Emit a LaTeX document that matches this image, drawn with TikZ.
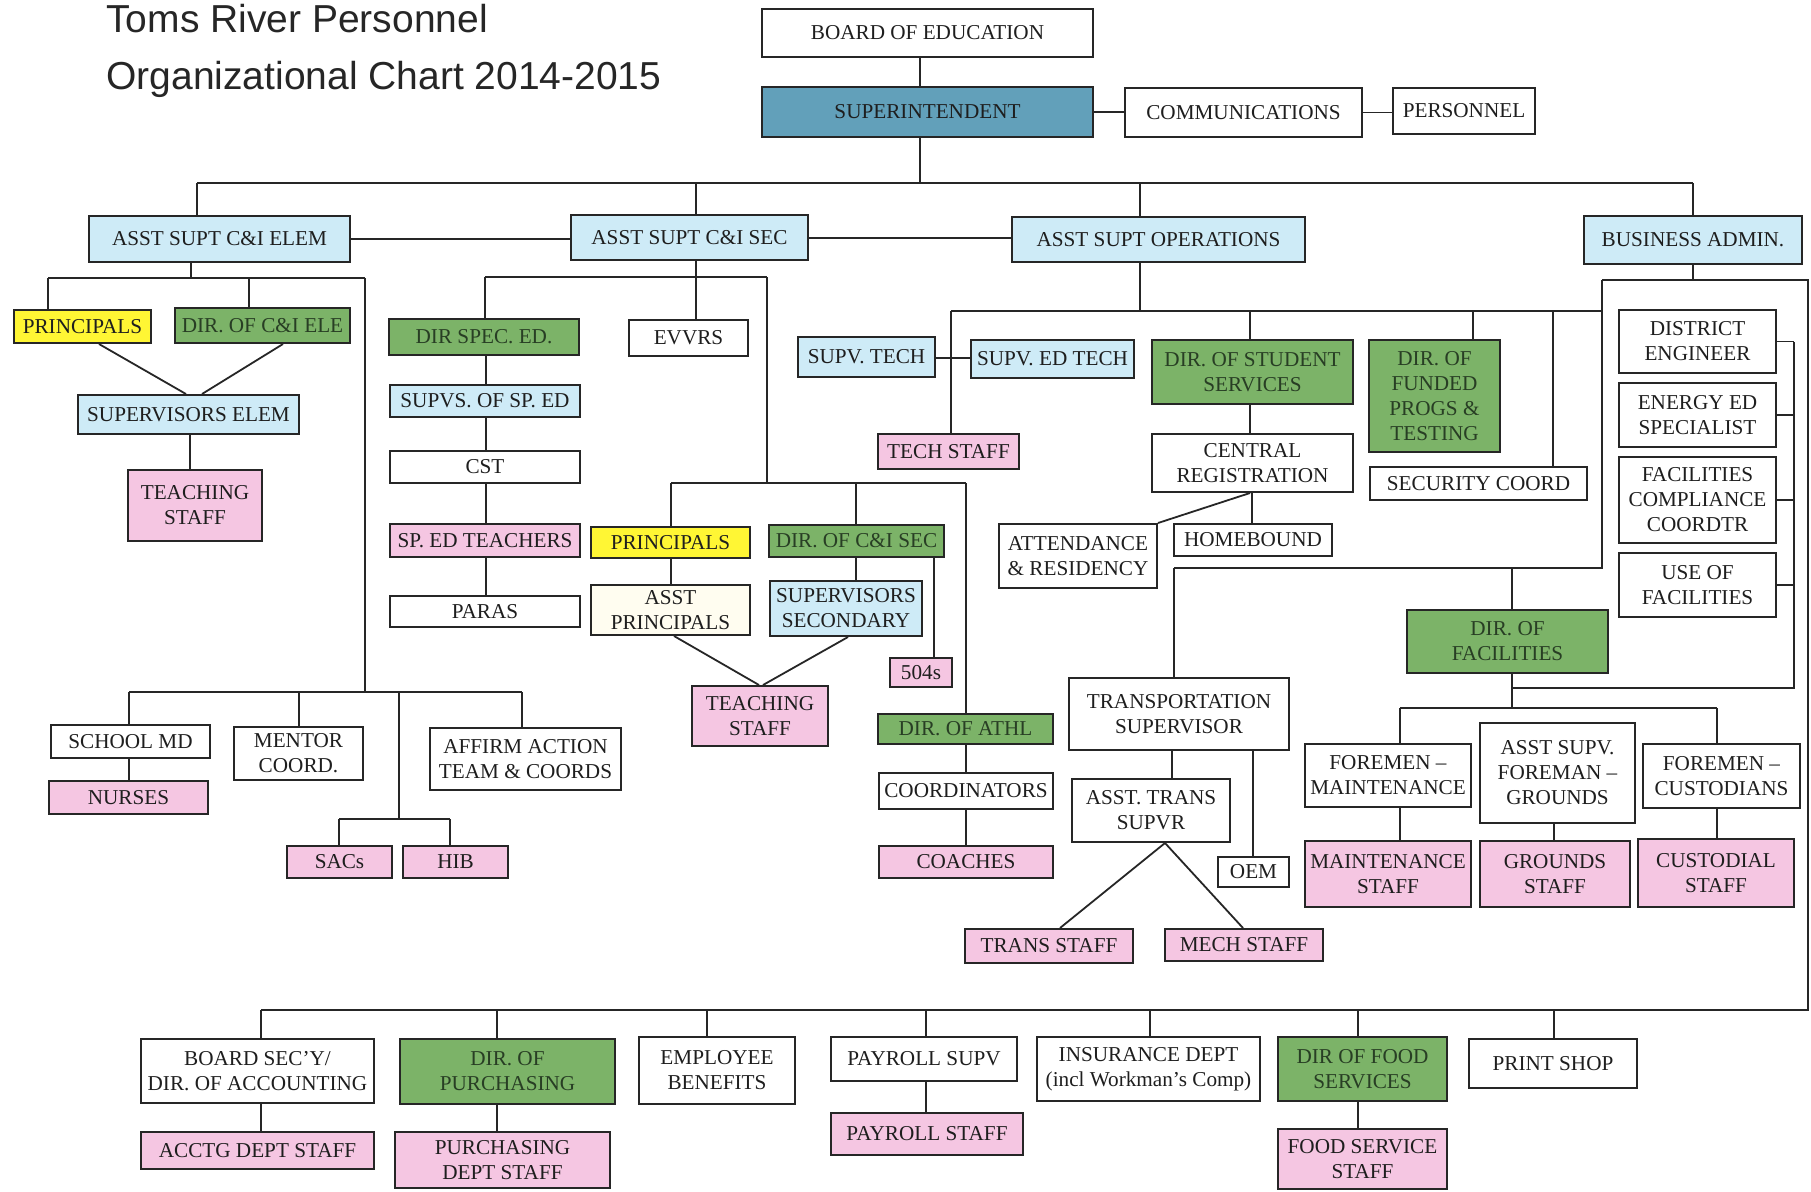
\documentclass[tikz,border=0pt]{standalone}
\usepackage{fontspec}
\setmainfont{Liberation Serif}
\newfontfamily\titlefont{Liberation Sans}
\definecolor{cSup}{RGB}{98,160,186}
\definecolor{cLB}{RGB}{206,235,247}
\definecolor{cGr}{RGB}{124,179,104}
\definecolor{cPk}{RGB}{245,198,226}
\definecolor{cYl}{RGB}{255,246,52}
\definecolor{cCr}{RGB}{255,253,240}
\definecolor{cTx}{RGB}{30,30,30}
\definecolor{cTxG}{RGB}{40,62,36}
\newcommand\bx[7]{\node[box,#6,minimum width={(#4-#2)*0.5pt},minimum height={(#5-#3)*0.5pt}] (#1) at ({(#2+#4)/2},{(#3+#5)/2}) {#7};}
\begin{document}
\begin{tikzpicture}[x=0.5pt,y=-0.5pt,
  box/.style={draw=black!85,line width=1pt,inner sep=1pt,align=center,font=\fontsize{10.6}{12.5}\selectfont,text=cTx},
  fWhite/.style={fill=white}, fSup/.style={fill=cSup}, fLB/.style={fill=cLB},
  fGreen/.style={fill=cGr,text=cTxG}, fPink/.style={fill=cPk}, fYellow/.style={fill=cYl}, fCream/.style={fill=cCr},
  ln/.style={draw=black!85,line width=0.9pt},
  ttl/.style={anchor=base west,inner sep=0pt,text=black!85,font=\titlefont\fontsize{19.5}{21}\selectfont}]
\fill[white] (0,0) rectangle (1811,1191);
\useasboundingbox (0,0) rectangle (1811,1191);
% title
\node[ttl] (t1) at (106,32) {Toms River Personnel};
\node[ttl] (t2) at (106,89) {Organizational Chart 2014-2015};
% top
\bx{board}{762}{9}{1093}{57}{fWhite}{BOARD OF EDUCATION}
\bx{super}{762}{87}{1093}{137}{fSup}{SUPERINTENDENT}
\bx{comm}{1125}{88}{1362}{137}{fWhite}{COMMUNICATIONS}
\bx{pers}{1393}{88}{1535}{134}{fWhite}{PERSONNEL}
% level 1
\bx{elem}{89}{216}{350}{262}{fLB}{ASST SUPT C\&I ELEM}
\bx{sec}{571}{215}{808}{260}{fLB}{ASST SUPT C\&I SEC}
\bx{ops}{1012}{217}{1305}{262}{fLB}{ASST SUPT OPERATIONS}
\bx{bus}{1584}{216}{1802}{264}{fLB}{BUSINESS ADMIN.}
% elem subtree
\bx{prinE}{14}{310}{151}{343}{fYellow}{PRINCIPALS}
\bx{dirE}{175}{308}{350}{343}{fGreen}{DIR. OF C\&I ELE}
\bx{supE}{78}{395}{299}{434}{fLB}{SUPERVISORS ELEM}
\bx{teachE}{128}{470}{262}{541}{fPink}{TEACHING\\STAFF}
\bx{schoolmd}{51}{725}{210}{758}{fWhite}{SCHOOL MD}
\bx{nurses}{49}{781}{208}{814}{fPink}{NURSES}
\bx{mentor}{234}{727}{363}{780}{fWhite}{MENTOR\\COORD.}
\bx{affirm}{430}{728}{621}{790}{fWhite}{AFFIRM ACTION\\TEAM \& COORDS}
\bx{sacs}{287}{846}{392}{878}{fPink}{SACs}
\bx{hib}{403}{846}{508}{878}{fPink}{HIB}
% sec subtree
\bx{dirsp}{389}{319}{579}{355}{fGreen}{DIR SPEC. ED.}
\bx{supsp}{390}{385}{580}{417}{fLB}{SUPVS. OF SP. ED}
\bx{cst}{390}{451}{580}{483}{fWhite}{CST}
\bx{spedt}{390}{524}{580}{557}{fPink}{SP. ED TEACHERS}
\bx{paras}{390}{596}{580}{627}{fWhite}{PARAS}
\bx{evvrs}{629}{320}{748}{356}{fWhite}{EVVRS}
\bx{prinS}{591}{527}{750}{558}{fYellow}{PRINCIPALS}
\bx{dirS}{769}{525}{944}{557}{fGreen}{DIR. OF C\&I SEC}
\bx{asstprin}{591}{585}{750}{635}{fCream}{ASST\\PRINCIPALS}
\bx{supS}{770}{581}{922}{636}{fLB}{SUPERVISORS\\SECONDARY}
\bx{sfive}{890}{658}{952}{687}{fPink}{504s}
\bx{teachS}{692}{686}{828}{746}{fPink}{TEACHING\\STAFF}
\bx{athl}{878}{714}{1053}{744}{fGreen}{DIR. OF ATHL}
\bx{coord}{879}{773}{1053}{809}{fWhite}{COORDINATORS}
\bx{coaches}{879}{846}{1053}{878}{fPink}{COACHES}
% ops subtree
\bx{supvtech}{798}{337}{935}{377}{fLB}{SUPV. TECH}
\bx{supvedtech}{971}{340}{1134}{378}{fLB}{SUPV. ED TECH}
\bx{techstaff}{878}{434}{1019}{469}{fPink}{TECH STAFF}
\bx{dss}{1152}{340}{1353}{404}{fGreen}{DIR. OF STUDENT\\SERVICES}
\bx{centreg}{1152}{434}{1353}{492}{fWhite}{CENTRAL\\REGISTRATION}
\bx{attend}{999}{524}{1157}{588}{fWhite}{ATTENDANCE\\\& RESIDENCY}
\bx{homebound}{1174}{524}{1332}{556}{fWhite}{HOMEBOUND}
\bx{funded}{1369}{340}{1500}{452}{fGreen}{DIR. OF\\FUNDED\\PROGS \&\\TESTING}
\bx{security}{1370}{467}{1587}{500}{fWhite}{SECURITY COORD}
\bx{trans}{1069}{678}{1289}{750}{fWhite}{TRANSPORTATION\\SUPERVISOR}
\bx{asstrans}{1072}{779}{1230}{842}{fWhite}{ASST. TRANS\\SUPVR}
\bx{oem}{1218}{857}{1289}{887}{fWhite}{OEM}
\bx{transstaff}{965}{929}{1133}{963}{fPink}{TRANS STAFF}
\bx{mechstaff}{1165}{929}{1323}{961}{fPink}{MECH STAFF}
\bx{dirfac}{1407}{610}{1608}{673}{fGreen}{DIR. OF\\FACILITIES}
\bx{fmaint}{1305}{744}{1471}{807}{fWhite}{FOREMEN --\\MAINTENANCE}
\bx{fground}{1480}{723}{1635}{823}{fWhite}{ASST SUPV.\\FOREMAN --\\GROUNDS}
\bx{fcust}{1643}{744}{1800}{808}{fWhite}{FOREMEN --\\CUSTODIANS}
\bx{mstaff}{1305}{841}{1471}{907}{fPink}{MAINTENANCE\\STAFF}
\bx{gstaff}{1480}{841}{1630}{907}{fPink}{GROUNDS\\STAFF}
\bx{cstaff}{1638}{839}{1794}{907}{fPink}{CUSTODIAL\\STAFF}
% business subtree
\bx{deng}{1619}{310}{1776}{373}{fWhite}{DISTRICT\\ENGINEER}
\bx{energy}{1619}{383}{1776}{447}{fWhite}{ENERGY ED\\SPECIALIST}
\bx{fcomp}{1619}{457}{1776}{543}{fWhite}{FACILITIES\\COMPLIANCE\\COORDTR}
\bx{usefac}{1619}{553}{1776}{617}{fWhite}{USE OF\\FACILITIES}
% bottom
\bx{boardsec}{141}{1039}{374}{1103}{fWhite}{BOARD SEC'Y/\\DIR. OF ACCOUNTING}
\bx{acctg}{141}{1132}{374}{1169}{fPink}{ACCTG DEPT STAFF}
\bx{purch}{400}{1039}{615}{1104}{fGreen}{DIR. OF\\PURCHASING}
\bx{purchstaff}{395}{1132}{610}{1188}{fPink}{PURCHASING\\DEPT STAFF}
\bx{empben}{639}{1037}{795}{1104}{fWhite}{EMPLOYEE\\BENEFITS}
\bx{payroll}{831}{1037}{1017}{1081}{fWhite}{PAYROLL SUPV}
\bx{paystaff}{831}{1113}{1023}{1155}{fPink}{PAYROLL STAFF}
\bx{insur}{1037}{1037}{1260}{1101}{fWhite}{INSURANCE DEPT\\(incl Workman's Comp)}
\bx{food}{1278}{1037}{1447}{1101}{fGreen}{DIR OF FOOD\\SERVICES}
\bx{foodstaff}{1278}{1129}{1447}{1189}{fPink}{FOOD SERVICE\\STAFF}
\bx{print}{1469}{1039}{1637}{1088}{fWhite}{PRINT SHOP}
% ---------- connectors ----------
\draw[ln] (920,0 |- board.south) -- (920,0 |- super.north);
\draw[ln] (super.east) -- (super.east -| comm.west);
\draw[ln] (comm.east) -- (comm.east -| pers.west);
\coordinate (tbL) at (197,183);
\coordinate (tbR) at (1693,183);
\draw[ln] (920,0 |- super.south) -- (920,183);
\draw[ln] (tbL) -- (tbR);
\draw[ln] (tbL) -- (tbL |- elem.north);
\draw[ln] (696,183) -- (696,0 |- sec.north);
\draw[ln] (1140,183) -- (1140,0 |- ops.north);
\draw[ln] (tbR) -- (tbR |- bus.north);
\draw[ln] (elem.east) -- (elem.east -| sec.west);
\draw[ln] (sec.east |- 0,238) -- (ops.west |- 0,238);
% elem
\coordinate (ebL) at (48,278);
\coordinate (ebR) at (365,278);
\draw[ln] (191,0 |- elem.south) -- (191,278);
\draw[ln] (ebL) -- (ebR);
\draw[ln] (ebL) -- (ebL |- prinE.north);
\draw[ln] (249,278) -- (249,0 |- dirE.north);
\draw[ln] (99,0 |- prinE.south) -- (186,0 |- supE.north);
\draw[ln] (283,0 |- dirE.south) -- (202,0 |- supE.north);
\draw[ln] (190,0 |- supE.south) -- (190,0 |- teachE.north);
\coordinate (lbL) at (129,692);
\coordinate (lbR) at (522,692);
\draw[ln] (ebR) -- (365,692);
\draw[ln] (lbL) -- (lbR);
\draw[ln] (lbL) -- (lbL |- schoolmd.north);
\draw[ln] (299,692) -- (299,0 |- mentor.north);
\draw[ln] (lbR) -- (lbR |- affirm.north);
\draw[ln] (399,692) -- (399,819);
\draw[ln] (339,819) -- (450,819);
\draw[ln] (339,819) -- (339,0 |- sacs.north);
\draw[ln] (450,819) -- (450,0 |- hib.north);
\draw[ln] (129,0 |- schoolmd.south) -- (129,0 |- nurses.north);
% sec
\draw[ln] (696,0 |- sec.south) -- (696,277);
\draw[ln] (485,277) -- (767,277);
\draw[ln] (485,277) -- (485,0 |- dirsp.north);
\draw[ln] (696,277) -- (696,0 |- evvrs.north);
\draw[ln] (486,0 |- dirsp.south) -- (486,0 |- supsp.north);
\draw[ln] (486,0 |- supsp.south) -- (486,0 |- cst.north);
\draw[ln] (486,0 |- cst.south) -- (486,0 |- spedt.north);
\draw[ln] (486,0 |- spedt.south) -- (486,0 |- paras.north);
\draw[ln] (767,277) -- (767,483);
\draw[ln] (671,483) -- (966,483);
\draw[ln] (671,483) -- (671,0 |- prinS.north);
\draw[ln] (856,483) -- (856,0 |- dirS.north);
\draw[ln] (966,483) -- (966,0 |- athl.north);
\draw[ln] (671,0 |- prinS.south) -- (671,0 |- asstprin.north);
\draw[ln] (856,0 |- dirS.south) -- (856,0 |- supS.north);
\draw[ln] (934,0 |- dirS.south) -- (934,0 |- sfive.north);
\draw[ln] (674,0 |- asstprin.south) -- (759,0 |- teachS.north);
\draw[ln] (848,0 |- supS.south) -- (763,0 |- teachS.north);
\draw[ln] (966,0 |- athl.south) -- (966,0 |- coord.north);
\draw[ln] (966,0 |- coord.south) -- (966,0 |- coaches.north);
% ops
\draw[ln] (1140,0 |- ops.south) -- (1140,311);
\draw[ln] (951,311) -- (1602,311);
\draw[ln] (951,311) -- (951,0 |- techstaff.north);
\draw[ln] (supvtech.east |- 0,358) -- (supvedtech.west |- 0,358);
\draw[ln] (1250,311) -- (1250,0 |- dss.north);
\draw[ln] (1473,311) -- (1473,0 |- funded.north);
\draw[ln] (1553,311) -- (1553,0 |- security.north);
\draw[ln] (1250,0 |- dss.south) -- (1250,0 |- centreg.north);
\draw[ln] (1252,0 |- centreg.south) -- (1252,0 |- homebound.north);
\draw[ln] (1250,0 |- centreg.south) -- (attend.north east);
% business
\draw[ln] (1693,0 |- bus.south) -- (1693,280);
\draw[ln] (1602,280) -- (1808,280) -- (1808,1010) -- (261,1010);
\draw[ln] (1602,280) -- (1602,568) -- (1174,568);
\draw[ln] (1174,568) -- (1174,0 |- trans.north);
\draw[ln] (1512,568) -- (1512,0 |- dirfac.north);
\draw[ln] (1172,0 |- trans.south) -- (1172,0 |- asstrans.north);
\draw[ln] (1253,0 |- trans.south) -- (1253,0 |- oem.north);
\draw[ln] (1165,0 |- asstrans.south) -- (1060,0 |- transstaff.north);
\draw[ln] (1165,0 |- asstrans.south) -- (1243,0 |- mechstaff.north);
\draw[ln] (1512,0 |- dirfac.south) -- (1512,708);
\draw[ln] (1400,708) -- (1717,708);
\draw[ln] (1400,708) -- (1400,0 |- fmaint.north);
\draw[ln] (1717,708) -- (1717,0 |- fcust.north);
\draw[ln] (1512,688) -- (1794,688) -- (1794,0 |- deng.east);
\draw[ln] (deng.east) -- (1794,0 |- deng.east);
\draw[ln] (energy.east) -- (1794,0 |- energy.east);
\draw[ln] (fcomp.east) -- (1794,0 |- fcomp.east);
\draw[ln] (usefac.east) -- (1794,0 |- usefac.east);
\draw[ln] (1400,0 |- fmaint.south) -- (1400,0 |- mstaff.north);
\draw[ln] (1554,0 |- fground.south) -- (1554,0 |- gstaff.north);
\draw[ln] (1717,0 |- fcust.south) -- (1717,0 |- cstaff.north);
% bottom
\foreach \xx/\nn in {261/boardsec,497/purch,707/empben,926/payroll,1150/insur,1358/food,1554/print}
  \draw[ln] (\xx,1010) -- (\xx,0 |- \nn.north);
\draw[ln] (261,0 |- boardsec.south) -- (261,0 |- acctg.north);
\draw[ln] (497,0 |- purch.south) -- (497,0 |- purchstaff.north);
\draw[ln] (926,0 |- payroll.south) -- (926,0 |- paystaff.north);
\draw[ln] (1358,0 |- food.south) -- (1358,0 |- foodstaff.north);
\end{tikzpicture}
\end{document}
